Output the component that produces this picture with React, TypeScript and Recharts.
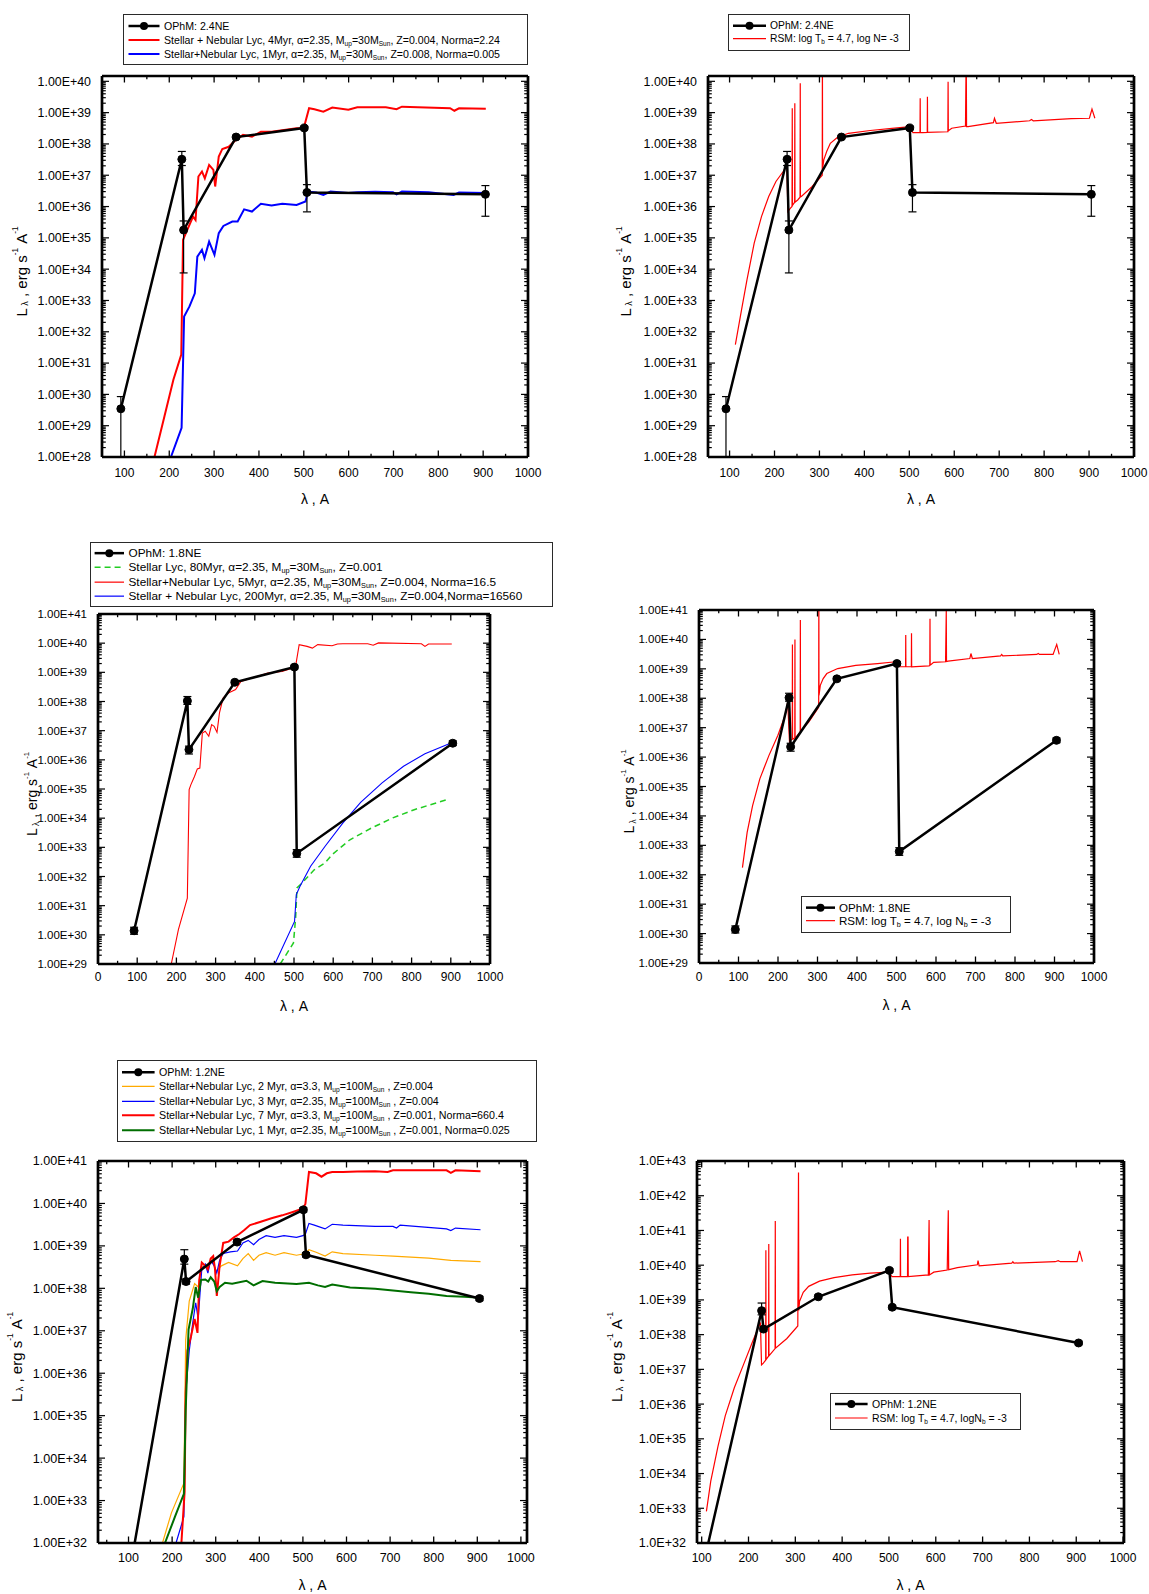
import React from "react"
import { LineChart, Line, XAxis, YAxis, ErrorBar, Legend } from "recharts"

const FONT = '"Liberation Sans", Arial, Helvetica, sans-serif'

// values are log10 of L_lambda; wavelengths in Angstrom
const ophmWl = [92, 228, 232, 349, 501, 507, 905]

const ophm24 = [29.54, 37.51, 35.25, 38.22, 38.51, 36.45, 36.39]
const ophm24Err: ([number, number] | null)[] = [[1.54, 0.39], [0.2, 0.25], [1.37, 0.29], [0.05, 0.05], [0.05, 0.05], [0.62, 0.25], [0.7, 0.28]]

const ophm18 = [30.14, 38.02, 36.35, 38.66, 39.18, 32.79, 36.57]
const ophm18Err: ([number, number] | null)[] = [[0.12, 0.12], [0.12, 0.15], [0.15, 0.12], [0.06, 0.06], [0.06, 0.06], [0.13, 0.13], [0.08, 0.08]]

const ophm12 = [30.7, 38.69, 38.16, 39.09, 39.85, 38.79, 37.76]
const ophm12Err: ([number, number] | null)[] = [null, [0.12, 0.22], [0.06, 0.06], [0.05, 0.05], [0.05, 0.05], [0.05, 0.05], [0.05, 0.05]]

// panel 1 models
const sn4Myr: [number, number][] = [[167.0, 28.0], [189.3, 29.3], [209.2, 30.47], [226.8, 31.27], [230.7, 34.94], [237.1, 35.15], [253.0, 35.68], [258.6, 35.57], [265.0, 36.96], [272.9, 37.12], [279.3, 36.9], [288.9, 37.33], [298.4, 37.17], [302.4, 36.64], [310.4, 37.6], [318.3, 37.84], [332.6, 37.91], [348.6, 38.13], [364.5, 38.29], [384.4, 38.23], [404.3, 38.39], [428.2, 38.39], [460.0, 38.45], [483.9, 38.5], [499.8, 38.5], [511.8, 39.14], [523.7, 39.11], [543.6, 39.03], [563.5, 39.16], [599.4, 39.09], [619.3, 39.17], [659.1, 39.17], [683.0, 39.17], [706.8, 39.11], [718.8, 39.19], [826.3, 39.14], [835.8, 39.06], [846.2, 39.14], [905.9, 39.12]]
const sn1Myr: [number, number][] = [[203.7, 28.0], [227.5, 28.93], [233.1, 32.49], [245.1, 32.81], [257.0, 33.23], [262.6, 34.4], [272.9, 34.62], [278.5, 34.35], [288.9, 34.88], [300.8, 34.46], [310.4, 35.15], [320.7, 35.38], [340.6, 35.52], [352.5, 35.52], [366.9, 35.91], [384.4, 35.84], [404.3, 36.09], [428.2, 36.03], [452.1, 36.09], [483.9, 36.05], [503.8, 36.16], [509.4, 36.48], [527.7, 36.45], [543.6, 36.37], [559.6, 36.48], [599.4, 36.43], [619.3, 36.46], [659.1, 36.47], [698.9, 36.46], [706.8, 36.39], [718.8, 36.48], [778.5, 36.46], [834.2, 36.37], [846.2, 36.45], [905.9, 36.43]]

// panel 2 model
const rsm24: [number, number][] = [[112.9, 31.59], [126.6, 32.7], [138.7, 33.66], [154.8, 34.83], [171.0, 35.68], [187.1, 36.32], [203.2, 36.8], [219.4, 37.12], [227.4, 37.33], [229.8, 35.84], [235.5, 35.95], [239.0, 36.0], [239.5, 39.14], [240.0, 36.04], [243.5, 36.11], [244.8, 36.13], [245.2, 39.3], [245.6, 36.14], [251.6, 36.21], [256.9, 36.3], [257.3, 39.94], [257.7, 36.31], [259.7, 36.32], [283.9, 36.64], [306.2, 37.0], [306.6, 41.0], [307.0, 37.2], [309.7, 37.49], [316.1, 37.76], [324.2, 38.02], [340.3, 38.21], [364.5, 38.34], [412.9, 38.43], [461.3, 38.5], [501.6, 38.55], [508.1, 38.36], [523.8, 38.36], [524.2, 39.46], [524.6, 38.36], [529.8, 38.36], [539.9, 38.37], [540.3, 39.51], [540.7, 38.37], [585.8, 38.39], [586.3, 39.99], [586.8, 38.42], [594.4, 38.5], [625.0, 38.57], [626.6, 41.0], [627.4, 38.55], [630.6, 38.55], [687.1, 38.68], [689.5, 38.82], [693.5, 38.66], [767.7, 38.74], [771.8, 38.78], [775.8, 38.74], [860.5, 38.81], [900.8, 38.82], [906.5, 39.11], [912.9, 38.82]]

// panel 3 models
const sn5Myr: [number, number][] = [[186.9, 29.0], [205.1, 30.18], [227.9, 31.26], [232.5, 34.98], [237.0, 35.15], [246.1, 35.43], [253.4, 35.69], [259.8, 35.72], [266.2, 36.92], [273.5, 36.98], [282.6, 36.81], [289.9, 37.21], [296.3, 37.15], [303.6, 36.94], [309.9, 37.61], [319.1, 38.12], [332.7, 38.29], [351.0, 38.41], [364.6, 38.69], [378.3, 38.75], [405.7, 38.86], [433.0, 38.98], [469.5, 39.03], [496.8, 39.15], [504.1, 39.21], [513.2, 39.95], [533.3, 39.89], [546.9, 39.83], [560.6, 39.95], [597.1, 39.91], [610.8, 39.97], [624.4, 39.98], [688.2, 39.98], [701.9, 39.93], [715.6, 40.01], [825.0, 39.98], [834.1, 39.89], [843.2, 39.97], [902.5, 39.97]]
const sn200Myr: [number, number][] = [[451.2, 29.0], [501.4, 30.46], [505.9, 31.38], [515.0, 31.66], [542.4, 32.35], [578.9, 33.03], [624.4, 33.83], [670.0, 34.54], [724.7, 35.21], [779.4, 35.78], [834.1, 36.21], [905.2, 36.6]]
const st80Myr: [number, number][] = [[464.9, 29.0], [498.6, 29.72], [504.1, 30.58], [507.7, 31.61], [524.2, 31.83], [551.5, 32.23], [578.9, 32.46], [597.1, 32.75], [642.7, 33.26], [697.4, 33.66], [752.1, 34.01], [806.7, 34.29], [896.1, 34.66]]

// panel 4 model
const rsm18: [number, number][] = [[110.0, 32.24], [121.9, 33.44], [135.7, 34.35], [154.0, 35.26], [176.9, 36.05], [199.8, 36.74], [218.1, 37.42], [224.6, 37.87], [229.1, 36.51], [231.9, 36.57], [236.1, 36.6], [236.5, 39.83], [236.9, 36.61], [239.2, 36.62], [242.5, 36.66], [242.9, 40.0], [243.3, 36.67], [245.6, 36.68], [254.8, 36.83], [256.2, 36.85], [256.6, 40.66], [257.0, 36.88], [259.4, 36.91], [277.7, 37.19], [300.6, 37.65], [303.0, 37.7], [303.4, 42.0], [303.8, 38.1], [307.1, 38.44], [314.4, 38.67], [323.6, 38.84], [351.1, 39.01], [396.9, 39.12], [451.9, 39.18], [497.7, 39.24], [506.9, 39.07], [523.0, 39.07], [523.4, 40.15], [523.8, 39.07], [537.6, 39.07], [538.0, 40.21], [538.4, 39.07], [582.0, 39.1], [584.4, 39.11], [584.8, 40.7], [585.2, 39.13], [587.5, 39.15], [594.0, 39.22], [624.2, 39.24], [626.0, 40.97], [626.6, 39.25], [630.6, 39.26], [685.6, 39.35], [688.4, 39.52], [692.0, 39.35], [763.5, 39.44], [766.3, 39.49], [769.0, 39.44], [855.2, 39.49], [858.8, 39.52], [862.0, 39.49], [896.4, 39.49], [905.6, 39.83], [912.0, 39.49]]

// panel 5 models
const sn2Myr: [number, number][] = [[177.9, 32.0], [198.4, 32.71], [227.0, 33.41], [231.1, 36.78], [239.3, 37.7], [251.6, 38.11], [259.8, 38.03], [268.0, 38.53], [276.2, 38.49], [284.4, 38.53], [292.6, 38.7], [299.2, 38.41], [304.9, 38.45], [313.1, 38.53], [329.5, 38.61], [350.0, 38.53], [362.3, 38.7], [374.6, 38.82], [386.9, 38.66], [399.2, 38.78], [415.6, 38.84], [436.1, 38.78], [456.6, 38.84], [485.2, 38.78], [505.7, 38.82], [513.9, 38.91], [530.3, 38.85], [550.8, 38.76], [567.2, 38.86], [591.8, 38.82], [665.6, 38.78], [706.6, 38.76], [788.5, 38.71], [839.3, 38.66], [907.4, 38.63]]
const sn3Myr: [number, number][] = [[209.0, 32.0], [227.0, 32.62], [231.1, 35.54], [239.3, 36.53], [247.5, 37.2], [254.1, 37.66], [259.8, 37.28], [268.0, 38.45], [276.2, 38.57], [282.0, 38.36], [288.5, 38.66], [296.7, 38.53], [302.5, 38.36], [309.0, 38.66], [317.2, 38.82], [333.6, 38.86], [350.0, 38.88], [362.3, 39.07], [374.6, 39.13], [386.9, 39.03], [399.2, 39.15], [415.6, 39.24], [436.1, 39.2], [456.6, 39.24], [485.2, 39.2], [500.0, 39.24], [505.7, 39.28], [513.9, 39.53], [526.2, 39.49], [550.8, 39.4], [567.2, 39.51], [591.8, 39.49], [665.6, 39.46], [706.6, 39.46], [714.8, 39.42], [723.0, 39.49], [829.5, 39.4], [839.3, 39.36], [850.0, 39.42], [907.4, 39.38]]
const sn7Myr: [number, number][] = [[221.3, 32.0], [228.7, 33.21], [231.1, 35.54], [235.2, 36.53], [243.4, 36.87], [251.6, 37.28], [258.2, 36.95], [262.3, 38.2], [268.0, 38.61], [276.2, 38.53], [282.0, 38.45], [288.5, 38.7], [294.3, 38.76], [298.4, 38.45], [302.5, 37.82], [309.0, 38.53], [317.2, 39.07], [329.5, 39.1], [341.8, 39.2], [354.1, 39.28], [366.4, 39.38], [378.7, 39.49], [403.3, 39.57], [427.9, 39.65], [452.5, 39.72], [477.0, 39.8], [500.0, 39.88], [505.7, 39.99], [513.9, 40.74], [530.3, 40.71], [542.6, 40.63], [554.9, 40.71], [567.2, 40.74], [591.8, 40.74], [624.6, 40.75], [665.6, 40.76], [694.3, 40.74], [706.6, 40.78], [829.5, 40.78], [839.3, 40.72], [850.0, 40.78], [907.4, 40.76]]
const sn1MyrZ001: [number, number][] = [[183.6, 32.0], [206.6, 32.62], [227.0, 33.16], [231.1, 35.12], [237.7, 37.03], [247.5, 37.53], [254.1, 38.03], [259.8, 37.78], [266.4, 38.2], [276.2, 38.21], [282.8, 38.16], [288.5, 38.26], [296.7, 38.16], [302.5, 37.93], [309.0, 38.03], [321.3, 38.13], [337.7, 38.11], [370.5, 38.18], [386.9, 38.07], [407.4, 38.17], [436.1, 38.13], [485.2, 38.1], [513.9, 38.13], [534.4, 38.07], [550.8, 38.03], [567.2, 38.09], [608.2, 38.02], [665.6, 37.99], [706.6, 37.95], [747.5, 37.91], [788.5, 37.87], [829.5, 37.82], [870.5, 37.8], [907.4, 37.78]]

// panel 6 model
const rsm12: [number, number][] = [[110.1, 32.91], [119.4, 33.78], [134.9, 34.79], [150.3, 35.66], [169.7, 36.47], [189.1, 37.13], [208.4, 37.79], [225.5, 38.35], [227.8, 37.13], [231.7, 37.18], [236.7, 37.27], [237.1, 40.43], [237.5, 37.28], [242.9, 37.38], [243.3, 40.61], [243.7, 37.39], [256.8, 37.6], [257.2, 41.27], [257.6, 37.61], [282.0, 37.89], [305.3, 38.25], [306.8, 42.67], [307.4, 38.7], [309.1, 38.96], [316.9, 39.22], [328.5, 39.39], [351.7, 39.54], [382.7, 39.64], [421.5, 39.72], [460.2, 39.77], [498.9, 39.8], [506.7, 39.67], [524.1, 39.67], [524.5, 40.76], [524.9, 39.67], [539.6, 39.67], [540.0, 40.81], [540.8, 40.81], [541.2, 39.67], [584.1, 39.72], [585.7, 41.3], [586.5, 39.72], [595.7, 39.8], [624.4, 39.86], [626.7, 41.58], [627.5, 39.87], [630.6, 39.88], [646.1, 39.93], [688.7, 40.01], [690.2, 40.13], [692.6, 39.98], [762.3, 40.06], [764.6, 40.1], [766.9, 40.06], [855.2, 40.1], [861.4, 40.13], [866.0, 40.1], [901.7, 40.1], [907.1, 40.41], [913.3, 40.1]]

type Pt = { wl: number; logL: number; err?: [number, number] | null }

const toPts = (list: [number, number][]): Pt[] => list.map(([wl, logL]) => ({ wl, logL }))
const ophmPts = (vals: number[], err: ([number, number] | null)[]): Pt[] =>
  ophmWl.map((wl, i) => ({ wl, logL: vals[i], err: err[i] }))

const Sub = ({ children }: { children: React.ReactNode }) => (
  <sub style={{ fontSize: "0.62em", verticalAlign: "-0.3em", lineHeight: 0 }}>{children}</sub>
)

interface Curve { color: string; width: number; dash?: string; data: Pt[] }
interface LegendRow { label: React.ReactNode; color: string; width: number; dash?: string; dot?: boolean }
interface LegendSpec { x: number; y: number; w: number; rowH: number; pad: number; sw0: number; sw1: number; tx: number; fs: number; rows: LegendRow[] }
interface PanelSpec {
  cont: [number, number, number, number]
  box: [number, number, number, number]
  xDomain: [number, number]
  yDomain: [number, number]
  yFmt: (v: number) => string
  yFs: number
  xFs: number
  xDy: number
  titleDx: number
  titleFs: number
  curves: Curve[]
  ophm: Pt[]
  legend: LegendSpec
}

const xTickValues = ([lo, hi]: [number, number]) => {
  const out: number[] = []
  for (let v = Math.ceil(lo / 50) * 50; v <= hi + 1e-9; v += 50) out.push(v)
  return out
}
const yTickValues = ([lo, hi]: [number, number]) => {
  const out: number[] = []
  for (let d = Math.floor(lo); d <= Math.ceil(hi); d++) {
    for (let k = 1; k <= 9; k++) {
      const v = +(d + Math.log10(k)).toFixed(5)
      if (v >= lo - 1e-9 && v <= hi + 1e-9) out.push(v)
    }
  }
  return out
}
const isMajorX = (v: number) => Math.abs(v / 100 - Math.round(v / 100)) < 1e-6
const isMajorY = (v: number) => Math.abs(v - Math.round(v)) < 1e-6

const bottomTick = (fs: number, dy: number) => (p: any) => {
  const v = Number(p.payload.value)
  const major = isMajorX(v)
  return (
    <g>
      <line x1={p.x} x2={p.x} y1={p.y} y2={p.y - (major ? 6.5 : 3.2)} stroke="#000" strokeWidth={1.3} />
      {major && (
        <text x={p.x} y={p.y + dy} textAnchor="middle" fontSize={fs} fontFamily={FONT} fill="#000">{v}</text>
      )}
    </g>
  )
}
const topTick = (p: any) => {
  const major = isMajorX(Number(p.payload.value))
  return <line x1={p.x} x2={p.x} y1={p.y} y2={p.y + (major ? 6.5 : 3.2)} stroke="#000" strokeWidth={1.3} />
}
const leftTick = (fmt: (v: number) => string, fs: number) => (p: any) => {
  const v = Number(p.payload.value)
  const major = isMajorY(v)
  return (
    <g>
      <line x1={p.x} x2={p.x + (major ? 7 : 3.8)} y1={p.y} y2={p.y} stroke="#000" strokeWidth={1.2} />
      {major && (
        <text x={p.x - 11} y={p.y} dy="0.35em" textAnchor="end" fontSize={fs} fontFamily={FONT} fill="#000">
          {fmt(Math.round(v))}
        </text>
      )}
    </g>
  )
}
const rightTick = (p: any) => {
  const major = isMajorY(Number(p.payload.value))
  return <line x1={p.x} x2={p.x - (major ? 7 : 3.8)} y1={p.y} y2={p.y} stroke="#000" strokeWidth={1.2} />
}

const yTitle = (dx: number, fs: number) => (props: any) => {
  const vb = props.viewBox
  const cx = vb.x + vb.width - dx
  const cy = vb.y + vb.height / 2 + 5
  return (
    <text x={cx} y={cy} transform={`rotate(-90 ${cx} ${cy})`} textAnchor="middle" dominantBaseline="central"
      fontSize={fs} fontFamily={FONT} fill="#000">
      <tspan>L</tspan>
      <tspan dy={4} fontSize={fs * 0.6}>{"\u00a0λ"}</tspan>
      <tspan dy={-4}>{"\u00a0, erg s"}</tspan>
      <tspan dy={-6} fontSize={fs * 0.55}>-1</tspan>
      <tspan dy={6}>{"\u00a0A"}</tspan>
      <tspan dy={-6} fontSize={fs * 0.55}>-1</tspan>
    </text>
  )
}
const xTitle = (fs: number) => (props: any) => {
  const vb = props.viewBox
  return (
    <text x={vb.x + vb.width / 2} y={vb.y + 47} textAnchor="middle" fontSize={fs} fontFamily={FONT} fill="#000">
      λ , A
    </text>
  )
}

function LegendBox({ lg }: { lg: LegendSpec }) {
  return (
    <div style={{
      width: lg.w, boxSizing: "border-box", border: "1px solid #2a2a2a", background: "#fff",
      padding: `${lg.pad}px 0`, fontFamily: FONT, fontSize: lg.fs, color: "#000"
    }}>
      {lg.rows.map((r, i) => (
        <div key={i} style={{ position: "relative", height: lg.rowH, lineHeight: `${lg.rowH}px`, whiteSpace: "nowrap" }}>
          <svg width={lg.sw1 + 5} height={lg.rowH} style={{ position: "absolute", left: 0, top: 0 }}>
            <line x1={lg.sw0} x2={lg.sw1} y1={lg.rowH / 2} y2={lg.rowH / 2} stroke={r.color}
              strokeWidth={r.width} strokeDasharray={r.dash} />
            {r.dot && <circle cx={(lg.sw0 + lg.sw1) / 2} cy={lg.rowH / 2} r={4} fill="#000" />}
          </svg>
          <span style={{ position: "absolute", left: lg.tx, top: 0 }}>{r.label}</span>
        </div>
      ))}
    </div>
  )
}

const YW = 80
const XH = 50

function Panel({ s }: { s: PanelSpec }) {
  const [cl, ct, cw, ch] = s.cont
  const [x0, y0, x1, y1] = s.box
  // top / right frame axes take 1px each
  const margin = { left: x0 - cl - YW, top: y0 - ct - 1, right: cl + cw - x1 - 1, bottom: ct + ch - y1 - XH }
  const xt = xTickValues(s.xDomain)
  const yt = yTickValues(s.yDomain)
  const frame = { stroke: "#000", strokeWidth: 2.7 }
  const lg = s.legend
  return (
    <div style={{ position: "absolute", left: cl, top: ct, width: cw, height: ch }}>
      <LineChart width={cw} height={ch} margin={margin}>
        <XAxis xAxisId="b" type="number" dataKey="wl" domain={s.xDomain} allowDataOverflow ticks={xt} interval={0}
          tickSize={0} tickMargin={0} tickLine={false} axisLine={frame} height={XH}
          tick={bottomTick(s.xFs, s.xDy)} label={xTitle(14)} />
        <XAxis xAxisId="t" orientation="top" type="number" dataKey="wl" domain={s.xDomain} allowDataOverflow ticks={xt}
          interval={0} tickSize={0} tickMargin={0} tickLine={false} axisLine={frame} height={1} tick={topTick} />
        <YAxis yAxisId="l" type="number" dataKey="logL" domain={s.yDomain} allowDataOverflow ticks={yt} interval={0}
          tickSize={0} tickMargin={0} tickLine={false} axisLine={frame} width={YW}
          tick={leftTick(s.yFmt, s.yFs)} label={yTitle(s.titleDx, s.titleFs)} />
        <YAxis yAxisId="r" orientation="right" type="number" dataKey="logL" domain={s.yDomain} allowDataOverflow ticks={yt}
          interval={0} tickSize={0} tickMargin={0} tickLine={false} axisLine={frame} width={1} tick={rightTick} />
        {/* invisible series so the top/right frame axes get a scale */}
        <Line xAxisId="t" yAxisId="r" data={s.ophm} dataKey="logL" stroke="none" strokeWidth={0} dot={false}
          activeDot={false} isAnimationActive={false} legendType="none" />
        {s.curves.map((c, i) => (
          <Line key={i} xAxisId="b" yAxisId="l" data={c.data} dataKey="logL" type="linear" stroke={c.color}
            strokeWidth={c.width} strokeDasharray={c.dash} dot={false} activeDot={false} isAnimationActive={false} />
        ))}
        <Line xAxisId="b" yAxisId="l" data={s.ophm} dataKey="logL" type="linear" stroke="#000" strokeWidth={2.5}
          dot={{ r: 4, fill: "#000", stroke: "#000", strokeWidth: 1 }} activeDot={false} isAnimationActive={false}>
          <ErrorBar dataKey="err" width={4} stroke="#000" strokeWidth={1.2} direction="y" />
        </Line>
        <Legend layout="vertical" align="center" verticalAlign="middle"
          wrapperStyle={{ left: lg.x, top: lg.y, width: lg.w }} content={() => <LegendBox lg={lg} />} />
      </LineChart>
    </div>
  )
}

const fmt2 = (v: number) => `1.00E+${v}`
const fmt1 = (v: number) => `1.0E+${v}`
const RED = "#ff0000"
const BLUE = "#0000ff"
const ophmRow = (label: string): LegendRow => ({ label, color: "#000", width: 2.5, dot: true })
const rsmRow = (nb: React.ReactNode): LegendRow => ({ label: <>RSM: log T<Sub>b</Sub> = 4.7, {nb}</>, color: RED, width: 1.2 })

const panels: PanelSpec[] = [
  {
    cont: [0, 0, 575, 520], box: [102, 76, 528, 457],
    xDomain: [50, 1000], yDomain: [28, 40.17], yFmt: fmt2, yFs: 12.4, xFs: 12, xDy: 20, titleDx: 81, titleFs: 15,
    curves: [
      { color: RED, width: 2, data: toPts(sn4Myr) },
      { color: BLUE, width: 2, data: toPts(sn1Myr) }
    ],
    ophm: ophmPts(ophm24, ophm24Err),
    legend: {
      x: 122.5, y: 14, w: 405, rowH: 14, pad: 3.5, sw0: 4.5, sw1: 35.5, tx: 40.5, fs: 10.6,
      rows: [
        ophmRow("OPhM: 2.4NE"),
        { label: <>Stellar + Nebular Lyc, 4Myr, α=2.35, M<Sub>up</Sub>=30M<Sub>Sun</Sub>, Z=0.004, Norma=2.24</>, color: RED, width: 2 },
        { label: <>Stellar+Nebular Lyc, 1Myr, α=2.35, M<Sub>up</Sub>=30M<Sub>Sun</Sub>, Z=0.008, Norma=0.005</>, color: BLUE, width: 2 }
      ]
    }
  },
  {
    cont: [575, 0, 574, 520], box: [708, 76, 1134, 457],
    xDomain: [52, 1000], yDomain: [28, 40.17], yFmt: fmt2, yFs: 12.4, xFs: 12, xDy: 20, titleDx: 83, titleFs: 15,
    curves: [{ color: RED, width: 1.2, data: toPts(rsm24) }],
    ophm: ophmPts(ophm24, ophm24Err),
    legend: {
      x: 153, y: 14, w: 182, rowH: 13.4, pad: 4, sw0: 4, sw1: 37, tx: 41, fs: 10.3,
      rows: [ophmRow("OPhM: 2.4NE"), rsmRow(<>log N= -3</>)]
    }
  },
  {
    cont: [0, 525, 575, 495], box: [98, 614, 490, 964],
    xDomain: [0, 1000], yDomain: [29, 41], yFmt: fmt2, yFs: 11.5, xFs: 12, xDy: 17, titleDx: 66, titleFs: 14,
    curves: [
      { color: "#22cc22", width: 1.5, dash: "6 4", data: toPts(st80Myr) },
      { color: RED, width: 1.1, data: toPts(sn5Myr) },
      { color: BLUE, width: 1.1, data: toPts(sn200Myr) }
    ],
    ophm: ophmPts(ophm18, ophm18Err),
    legend: {
      x: 90, y: 16.7, w: 463, rowH: 14.3, pad: 3.3, sw0: 3.6, sw1: 33, tx: 37.5, fs: 11.8,
      rows: [
        ophmRow("OPhM: 1.8NE"),
        { label: <>Stellar Lyc, 80Myr, α=2.35, M<Sub>up</Sub>=30M<Sub>Sun</Sub>, Z=0.001</>, color: "#22cc22", width: 1.5, dash: "6 4" },
        { label: <>Stellar+Nebular Lyc, 5Myr, α=2.35, M<Sub>up</Sub>=30M<Sub>Sun</Sub>, Z=0.004, Norma=16.5</>, color: RED, width: 1.2 },
        { label: <>Stellar + Nebular Lyc, 200Myr, α=2.35, M<Sub>up</Sub>=30M<Sub>Sun</Sub>, Z=0.004,Norma=16560</>, color: BLUE, width: 1.2 }
      ]
    }
  },
  {
    cont: [575, 525, 574, 495], box: [699, 610, 1094, 963],
    xDomain: [0, 1000], yDomain: [29, 41], yFmt: fmt2, yFs: 11.5, xFs: 12, xDy: 17.5, titleDx: 70, titleFs: 14,
    curves: [{ color: RED, width: 1.2, data: toPts(rsm18) }],
    ophm: ophmPts(ophm18, ophm18Err),
    legend: {
      x: 226, y: 371, w: 210, rowH: 13.3, pad: 4, sw0: 4, sw1: 33, tx: 37, fs: 11.6,
      rows: [ophmRow("OPhM: 1.8NE"), rsmRow(<>log N<Sub>b</Sub> = -3</>)]
    }
  },
  {
    cont: [0, 1040, 575, 554], box: [98, 1161, 527, 1543],
    xDomain: [30, 1014], yDomain: [32, 41], yFmt: fmt2, yFs: 12.6, xFs: 12.5, xDy: 18.5, titleDx: 82, titleFs: 15,
    curves: [
      { color: "#ffaa00", width: 1.2, data: toPts(sn2Myr) },
      { color: BLUE, width: 1.2, data: toPts(sn3Myr) },
      { color: RED, width: 2, data: toPts(sn7Myr) },
      { color: "#006e00", width: 2, data: toPts(sn1MyrZ001) }
    ],
    ophm: ophmPts(ophm12, ophm12Err),
    legend: {
      x: 117, y: 20, w: 420, rowH: 14.6, pad: 3.5, sw0: 4, sw1: 36.6, tx: 41, fs: 10.7,
      rows: [
        ophmRow("OPhM: 1.2NE"),
        { label: <>Stellar+Nebular Lyc, 2 Myr, α=3.3, M<Sub>up</Sub>=100M<Sub>Sun</Sub> , Z=0.004</>, color: "#ffaa00", width: 1.2 },
        { label: <>Stellar+Nebular Lyc, 3 Myr, α=2.35, M<Sub>up</Sub>=100M<Sub>Sun</Sub> , Z=0.004</>, color: BLUE, width: 1.2 },
        { label: <>Stellar+Nebular Lyc, 7 Myr, α=3.3, M<Sub>up</Sub>=100M<Sub>Sun</Sub> , Z=0.001, Norma=660.4</>, color: RED, width: 2 },
        { label: <>Stellar+Nebular Lyc, 1 Myr, α=2.35, M<Sub>up</Sub>=100M<Sub>Sun</Sub> , Z=0.001, Norma=0.025</>, color: "#006e00", width: 2 }
      ]
    }
  },
  {
    cont: [575, 1040, 574, 554], box: [697, 1161, 1124, 1543],
    xDomain: [90, 1002], yDomain: [32, 43], yFmt: fmt1, yFs: 12.6, xFs: 12, xDy: 19, titleDx: 81, titleFs: 15,
    curves: [{ color: RED, width: 1.2, data: toPts(rsm12) }],
    ophm: ophmPts(ophm12, ophm12Err),
    legend: {
      x: 255, y: 352.6, w: 191, rowH: 14, pad: 3.5, sw0: 4, sw1: 36.6, tx: 41, fs: 10.5,
      rows: [ophmRow("OPhM: 1.2NE"), rsmRow(<>logN<Sub>b</Sub> = -3</>)]
    }
  }
]

export default function App() {
  return (
    <div style={{ position: "absolute", left: 0, top: 0, width: 1149, height: 1594, background: "#fff", fontFamily: FONT }}>
      {panels.map((p, i) => <Panel key={i} s={p} />)}
    </div>
  )
}
